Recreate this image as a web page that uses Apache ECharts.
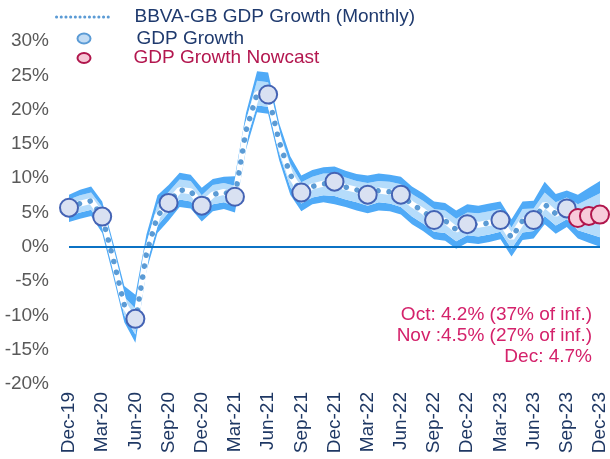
<!DOCTYPE html>
<html>
<head>
<meta charset="utf-8">
<script src="https://cdn.jsdelivr.net/npm/echarts@6.0.0/dist/echarts.min.js"></script>
<style>
  html, body { margin: 0; padding: 0; background: #fff; }
  #chart { width: 610px; height: 459px; }
</style>
</head>
<body>
<div id="chart"></div>
<script>
var months = ['Dec-19','Jan-20','Feb-20','Mar-20','Apr-20','May-20','Jun-20','Jul-20','Aug-20','Sep-20','Oct-20','Nov-20',
  'Dec-20','Jan-21','Feb-21','Mar-21','Apr-21','May-21','Jun-21','Jul-21','Aug-21','Sep-21','Oct-21','Nov-21',
  'Dec-21','Jan-22','Feb-22','Mar-22','Apr-22','May-22','Jun-22','Jul-22','Aug-22','Sep-22','Oct-22','Nov-22',
  'Dec-22','Jan-23','Feb-23','Mar-23','Apr-23','May-23','Jun-23','Jul-23','Aug-23','Sep-23','Oct-23','Nov-23','Dec-23'];

// monthly model estimate (dotted line)
var monthly = [5.7,6.3,6.7,4.4,-1.8,-8.5,-11.0,-1.0,4.5,6.4,8.3,8.1,6.1,7.6,8.0,7.3,16.9,22.3,22.2,15.3,10.5,7.9,8.8,9.2,
  9.2,8.7,8.3,7.7,8.2,8.0,7.6,6.2,5.2,3.9,3.8,2.5,3.4,3.2,3.5,3.9,1.3,3.8,3.9,6.2,4.8,5.7,4.2,4.5,4.7];

// confidence bands
var outerLo = [3.6,4.1,4.5,2.0,-4.3,-11.0,-14.0,-3.5,2.0,3.8,5.8,5.6,3.7,5.2,5.5,5.0,14.2,19.6,19.4,12.6,7.6,5.2,6.2,6.5,
  6.2,5.8,5.3,4.9,5.3,5.2,4.7,3.3,2.3,1.1,0.9,-0.3,0.6,0.4,0.7,1.1,-1.4,1.0,1.2,3.3,1.9,2.9,1.2,0.6,0.0];
var innerLo = [4.5,5.0,5.4,3.0,-3.2,-10.0,-12.8,-2.4,3.1,5.0,6.9,6.6,4.8,6.2,6.5,5.9,15.3,20.6,20.4,13.6,8.7,6.3,7.2,7.5,
  7.4,6.9,6.5,6.0,6.5,6.3,5.8,4.4,3.4,2.2,2.0,0.8,1.7,1.5,1.8,2.2,-0.3,2.1,2.3,4.5,3.1,4.0,2.4,1.9,1.4];
var innerHi = [6.9,7.5,7.9,5.8,-0.6,-7.3,-9.0,0.4,6.2,8.0,9.8,9.6,7.5,9.0,9.3,8.9,18.4,24.2,24.0,16.9,12.1,9.4,10.2,10.7,
  10.7,10.1,9.6,9.3,9.6,9.5,9.1,7.7,6.7,5.5,5.3,4.1,5.0,4.9,5.2,5.5,2.8,5.5,5.6,7.9,6.5,7.2,6.2,7.0,7.8];
var outerHi = [7.6,8.3,8.8,6.6,0.6,-5.7,-7.0,1.8,7.5,9.0,10.8,10.5,8.6,9.9,10.2,10.3,19.5,25.6,25.4,18.0,13.2,10.4,11.2,11.6,
  11.7,11.1,10.6,10.4,10.7,10.5,10.2,8.8,7.8,6.6,6.4,5.3,6.2,6.0,6.3,6.6,4.0,6.6,6.7,9.5,7.7,8.2,7.6,8.6,9.6];

// quarterly GDP growth (circles)
var gdpMonths = ['Dec-19','Mar-20','Jun-20','Sep-20','Dec-20','Mar-21','Jun-21','Sep-21','Dec-21','Mar-22','Jun-22',
  'Sep-22','Dec-22','Mar-23','Jun-23','Sep-23'];
var gdpValues = [5.7,4.4,-10.5,6.4,6.0,7.3,22.2,7.9,9.5,7.6,7.6,3.9,3.3,3.9,3.9,5.6];

// nowcast
var nowcastMonths = ['Oct-23','Nov-23','Dec-23'];
var nowcastValues = [4.2,4.5,4.7];
var nowcastNotes = ['Oct: 4.2% (37% of inf.)', 'Nov :4.5% (27% of inf.)', 'Dec: 4.7%'];

var yTicks = { min: -20, max: 30, step: 5 };

var FONT = '"Liberation Sans", Arial, sans-serif';
var DARK = '#4faaf7';
var LIGHT = '#b5dcfb';

function diff(a, b) {
  return a.map(function (v, i) { return +(v - b[i]).toFixed(2); });
}
function pairs(names, vals) {
  return names.map(function (n, i) { return [n, vals[i]]; });
}
function bandSeries(name, data, color) {
  return {
    name: name,
    type: 'line',
    stack: 'band',
    stackStrategy: 'all',
    data: data,
    symbol: 'none',
    silent: true,
    z: 1,
    lineStyle: { width: 0, opacity: 0 },
    areaStyle: color ? { color: color, opacity: 1 } : null
  };
}

// one text element per note line so each one is right aligned
var notes = nowcastNotes.map(function (t, i) {
  return {
    type: 'text',
    x: 592,
    y: 305 + i * 21,
    style: { text: t, fill: '#d4226b', font: '19px ' + FONT, align: 'right', verticalAlign: 'top' }
  };
});

var chart = echarts.init(document.getElementById('chart'));
chart.setOption({
  animation: false,
  textStyle: { fontFamily: FONT },
  grid: { left: 69, right: 10, top: 41, bottom: 75 },
  legend: [
    {
      data: ['BBVA-GB GDP Growth (Monthly)'],
      left: 55, top: 7.5, padding: 0,
      itemWidth: 55, itemHeight: 19,
      itemStyle: { opacity: 0 },
      lineStyle: { width: 3, type: [0.1, 4.6], cap: 'round', color: '#5b9bd5' },
      textStyle: { fontSize: 19, color: '#1f3a6e', padding: [0, 0, 0, 18] }
    },
    {
      data: [{ name: 'GDP Growth', itemStyle: { color: '#c3dcf4', borderColor: '#5b9bd5', borderWidth: 2 } }],
      left: 76.5, top: 29, padding: 0,
      itemWidth: 13, itemHeight: 10,
      icon: 'path://M0,5A6.5,5 0 1,0 13,5A6.5,5 0 1,0 0,5Z',
      textStyle: { fontSize: 19, color: '#1f3a6e', padding: [0, 0, 0, 41] }
    },
    {
      data: [{ name: 'GDP Growth Nowcast', itemStyle: { color: '#f6c7d6', borderColor: '#b0164c', borderWidth: 2 } }],
      left: 76.5, top: 48.5, padding: 0,
      itemWidth: 13, itemHeight: 10,
      icon: 'path://M0,5A6.5,5 0 1,0 13,5A6.5,5 0 1,0 0,5Z',
      textStyle: { fontSize: 19, color: '#b3174f', padding: [0, 0, 0, 38] }
    }
  ],
  xAxis: {
    type: 'category',
    data: months,
    boundaryGap: false,
    axisLine: { show: false },
    axisTick: { show: false },
    splitLine: { show: false },
    axisLabel: {
      interval: 2, rotate: 90, margin: 8,
      fontSize: 19, color: '#1f3864', fontFamily: FONT
    }
  },
  yAxis: {
    type: 'value',
    min: yTicks.min, max: yTicks.max, interval: yTicks.step,
    axisLine: { show: false },
    axisTick: { show: false },
    splitLine: { show: false },
    axisLabel: {
      formatter: '{value}%', margin: 20,
      fontSize: 19, color: '#595959', fontFamily: FONT
    }
  },
  series: [
    bandSeries('bandBase', outerLo, null),
    bandSeries('bandLow', diff(innerLo, outerLo), DARK),
    bandSeries('bandMid', diff(innerHi, innerLo), LIGHT),
    bandSeries('bandHigh', diff(outerHi, innerHi), DARK),
    {
      name: 'centre',
      type: 'line',
      data: monthly,
      symbol: 'none',
      silent: true,
      z: 2,
      lineStyle: { color: '#ffffff', width: 6 },
      markLine: {
        silent: true,
        symbol: 'none',
        label: { show: false },
        lineStyle: { color: '#0b72c4', width: 2, type: 'solid' },
        data: [{ yAxis: 0 }]
      }
    },
    {
      name: 'BBVA-GB GDP Growth (Monthly)',
      type: 'line',
      data: monthly,
      symbol: 'none',
      z: 3,
      itemStyle: { color: '#5b9bd5' },
      lineStyle: { color: '#5b9bd5', width: 5.5, type: [0.1, 11], cap: 'round' }
    },
    {
      name: 'GDP Growth',
      type: 'scatter',
      data: pairs(gdpMonths, gdpValues),
      symbol: 'circle',
      symbolSize: 18,
      z: 4,
      itemStyle: { color: '#d9e1f2', borderColor: '#4463b4', borderWidth: 2, opacity: 1 }
    },
    {
      name: 'GDP Growth Nowcast',
      type: 'scatter',
      data: pairs(nowcastMonths, nowcastValues),
      symbol: 'circle',
      symbolSize: 18,
      z: 5,
      itemStyle: { color: '#f8cbda', borderColor: '#b0164c', borderWidth: 2, opacity: 1 }
    }
  ],
  graphic: notes
});
</script>
</body>
</html>
